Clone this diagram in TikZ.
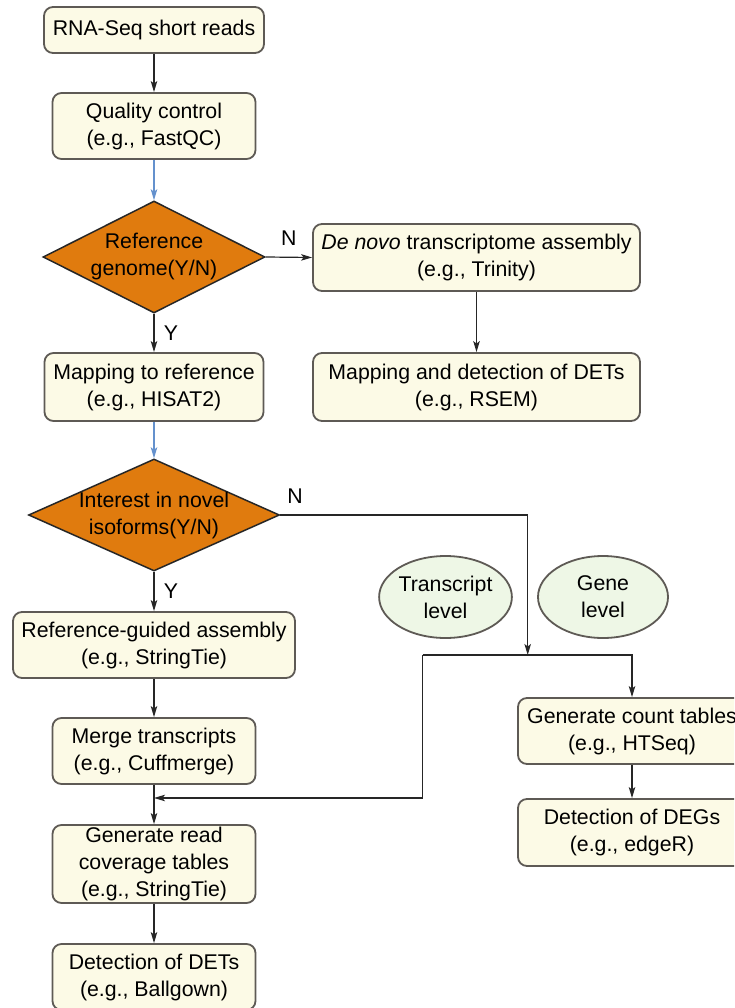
\documentclass[tikz,border=0pt]{standalone}
\usepackage{fontspec}
\setmainfont{Liberation Sans}
\usetikzlibrary{shapes.geometric, arrows.meta, positioning}
\definecolor{boxfill}{RGB}{252,250,230}
\definecolor{boxline}{RGB}{94,90,85}
\definecolor{decfill}{RGB}{224,123,14}
\definecolor{ovalfill}{RGB}{238,247,230}
\definecolor{flowblue}{RGB}{100,145,205}

\begin{document}
\begin{tikzpicture}[x=1pt, y=-1pt,
    every node/.style={font=\fontsize{21.3}{27}\selectfont},
    stepbox/.style={draw=boxline, fill=boxfill, line width=1.8pt, rounded corners=9pt, align=center, inner sep=0pt},
    decision/.style={diamond, draw=black!85, fill=decfill, line width=1.5pt, align=center, inner sep=-3pt},
    level/.style={ellipse, draw=boxline, fill=ovalfill, line width=1.8pt, align=center, inner sep=0pt, minimum width=130pt, minimum height=82pt},
    flow/.style={-{Stealth[length=11pt, width=6.5pt, inset=2.5pt]}, line width=1.2pt, draw=black!85},
    blueflow/.style={flow, draw=flowblue}]
    \useasboundingbox (0,0) rectangle (734,1008);
    \clip (0,0) rectangle (734,1008);

    % left column
    \node[stepbox, minimum width=220pt, minimum height=46pt] (reads) at (154,30) {RNA-Seq short reads};
    \node[stepbox, minimum width=203pt, minimum height=66pt] (qc) at (154,126) {Quality control\\(e.g., FastQC)};
    \node[decision, aspect=2, minimum width=222pt, minimum height=112pt] (ref) at (154,257) {Reference\\genome(Y/N)};
    \node[stepbox, minimum width=219pt, minimum height=68pt] (mapref) at (154,387) {Mapping to reference\\(e.g., HISAT2)};
    \node[decision, aspect=2.24, minimum width=251pt, minimum height=112pt] (novel) at (154,515) {Interest in novel\\isoforms(Y/N)};
    \node[stepbox, minimum width=282pt, minimum height=66pt] (guided) at (154,645) {Reference-guided assembly\\(e.g., StringTie)};
    \node[stepbox, minimum width=203pt, minimum height=66pt] (merge) at (154,751) {Merge transcripts\\(e.g., Cuffmerge)};
    \node[stepbox, minimum width=203pt, minimum height=78pt] (cover) at (154,864) {Generate read\\coverage tables\\(e.g., StringTie)};
    \node[stepbox, minimum width=203pt, minimum height=66pt] (ballgown) at (154,977) {Detection of DETs\\(e.g., Ballgown)};

    % right side
    \node[stepbox, minimum width=327pt, minimum height=67pt] (denovo) at (476.5,257.5) {\textit{De novo} transcriptome assembly\\(e.g., Trinity)};
    \node[stepbox, minimum width=327pt, minimum height=68pt] (mapdet) at (476.5,387) {Mapping and detection of DETs\\(e.g., RSEM)};
    \node[level] (tlevel) at (445.5,597) {Transcript\\level};
    \node[level] (glevel) at (603,597) {Gene\\level};
    \node[stepbox, minimum width=228pt, minimum height=66pt] (counts) at (632,731) {Generate count tables\\(e.g., HTSeq)};
    \node[stepbox, minimum width=228pt, minimum height=67pt] (degs) at (632,832.5) {Detection of DEGs\\(e.g., edgeR)};

    \coordinate (split) at (527.7,655);
    \coordinate (fork) at (422.7,655);
    \coordinate (join) at (154,798);

    \draw[flow] (reads) -- (qc);
    \draw[blueflow] (qc) -- (ref);
    \draw[flow] (ref.east) -- node[above=8pt] (n1) {N} (denovo.west);
    \draw[flow] (ref.south) -- node[right=6pt] (y1) {Y} (mapref.north);
    \draw[flow] (denovo) -- (mapdet);
    \draw[blueflow] (mapref) -- (novel);
    \draw[flow] (novel.east) -| node[pos=0.03, above=8pt] (n2) {N} (split);
    \draw[flow] (novel.south) -- node[right=6pt] (y2) {Y} (guided.north);
    \draw[flow] (guided) -- (merge);
    \draw[flow] (merge) -- (cover);
    \draw[flow] (cover) -- (ballgown);
    \draw[flow] (fork) -| (counts.north);
    \draw[flow] (fork) |- (join);
    \draw[flow] (counts) -- (degs);
\end{tikzpicture}
\end{document}
